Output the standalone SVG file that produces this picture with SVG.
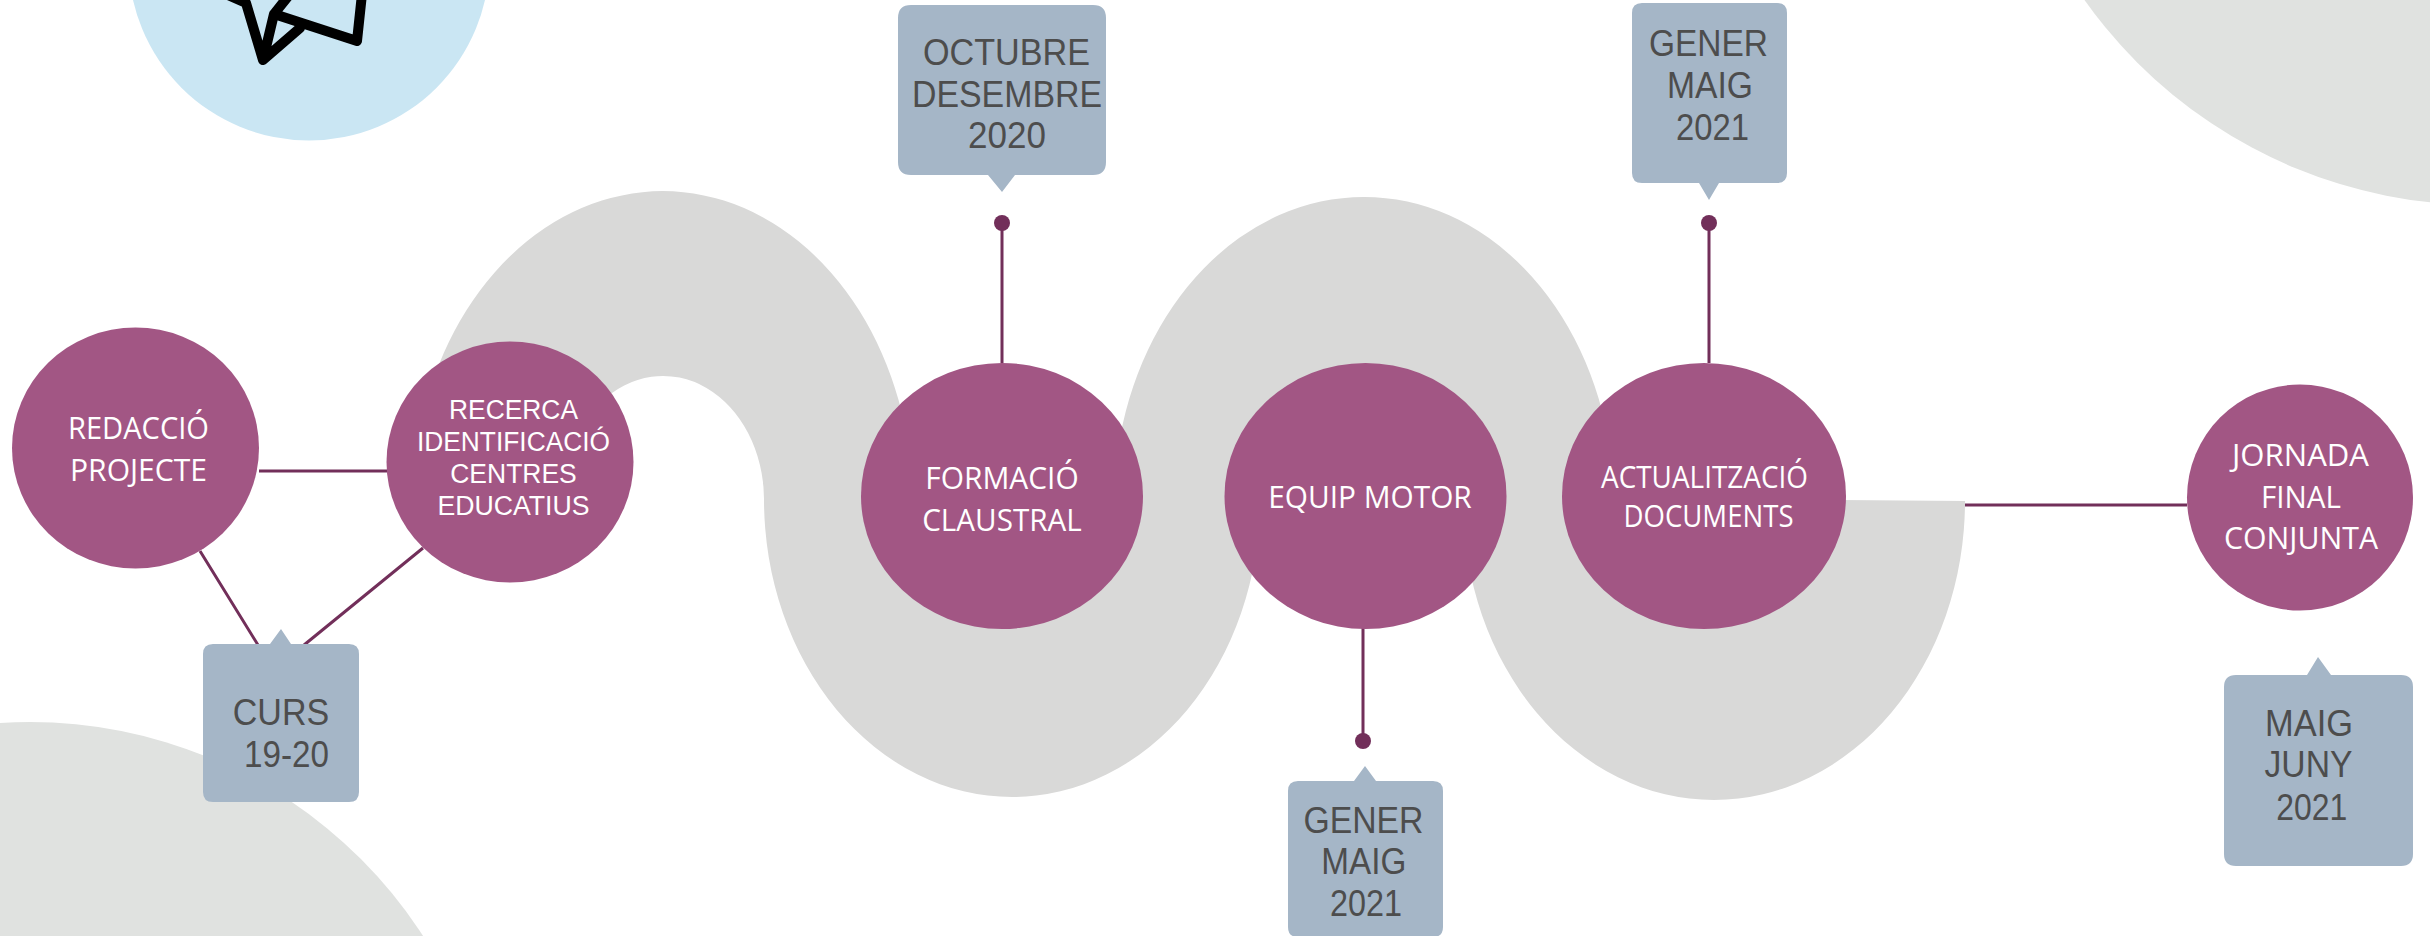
<svg xmlns="http://www.w3.org/2000/svg" width="2430" height="936" viewBox="0 0 2430 936">
<style>
.c{fill:#a25684}
.b{fill:#a5b6c7}
.l{stroke:#722f5a;stroke-width:3;fill:none}
.d{fill:#722f5a}
.t{font-family:"Open Sans","Noto Sans",sans-serif;font-size:31px;fill:#fff;text-anchor:middle}
.r{font-family:"Liberation Sans",Arial,sans-serif;font-size:27px;fill:#fff;text-anchor:middle}
.s{font-family:"Liberation Sans",Arial,sans-serif;font-size:36px;fill:#4d4d4d;text-anchor:middle}
</style>
<rect width="2430" height="936" fill="#fff"/>
<g id="decor">
<circle cx="309" cy="-40" r="180.5" fill="#cae6f3"/>
<path d="M228,-5 L246,3 L263,60 L300,28 M263,60 L274,14 L357,41 L362,-6 M274,14 L290,-6" fill="none" stroke="#000" stroke-width="10" stroke-linejoin="round" stroke-linecap="round"/>
<circle cx="30" cy="1190" r="468" fill="#e0e2e0"/>
<circle cx="2481" cy="-281" r="486" fill="#e0e2e0"/>
</g>
<path id="path" fill="#d9d9d8" d="M427,400 A250,313 0 0 1 909,450 L1118,450 A250,308 0 0 1 1610,450 L1700,499 L1965,501 A251,299 0 0 1 1463,501 L1260,499 A248,298 0 0 1 764,499 A101,124 0 0 0 600,403 Z"/>
<g id="connectors">
<path class="l" d="M259,471 H387 M200,551 L258,645 M423,548 L304,645 M1002,223 V363 M1709,223 V363 M1363,628 V741 M1965,505 H2187"/>
<circle class="d" cx="1002" cy="223" r="8"/>
<circle class="d" cx="1709" cy="223" r="8"/>
<circle class="d" cx="1363" cy="741" r="8"/>
</g>
<g id="n-redaccio"><ellipse class="c" cx="135.5" cy="448" rx="123.5" ry="120.5"/><text class="t" x="138.5" y="439" textLength="141" lengthAdjust="spacingAndGlyphs">REDACCIÓ</text><text class="t" x="138.5" y="480.5" textLength="137" lengthAdjust="spacingAndGlyphs">PROJECTE</text></g>
<g id="n-recerca"><ellipse class="c" cx="510" cy="462" rx="123.5" ry="120.5"/><text class="r" x="513.5" y="418.5" textLength="129" lengthAdjust="spacingAndGlyphs">RECERCA</text><text class="r" x="513.5" y="451" textLength="193" lengthAdjust="spacingAndGlyphs">IDENTIFICACIÓ</text><text class="r" x="513.5" y="482.5" textLength="126.5" lengthAdjust="spacingAndGlyphs">CENTRES</text><text class="r" x="513.5" y="515" textLength="152" lengthAdjust="spacingAndGlyphs">EDUCATIUS</text></g>
<g id="n-formacio"><ellipse class="c" cx="1002" cy="496" rx="141" ry="133"/><text class="t" x="1002" y="489" textLength="153.5" lengthAdjust="spacingAndGlyphs">FORMACIÓ</text><text class="t" x="1002" y="531" textLength="159.6" lengthAdjust="spacingAndGlyphs">CLAUSTRAL</text></g>
<g id="n-equip"><ellipse class="c" cx="1365.5" cy="496" rx="141" ry="133"/><text class="t" x="1370" y="508" textLength="203.5" lengthAdjust="spacingAndGlyphs">EQUIP MOTOR</text></g>
<g id="n-actualitzacio"><ellipse class="c" cx="1704" cy="496" rx="142" ry="133"/><text class="t" x="1704.5" y="488" textLength="207" lengthAdjust="spacingAndGlyphs">ACTUALITZACIÓ</text><text class="t" x="1708.5" y="526.5" textLength="170" lengthAdjust="spacingAndGlyphs">DOCUMENTS</text></g>
<g id="n-jornada"><ellipse class="c" cx="2300" cy="497.5" rx="113" ry="113"/><text class="t" x="2300.5" y="465.5" textLength="137" lengthAdjust="spacingAndGlyphs">JORNADA</text><text class="t" x="2301" y="507.5" textLength="80" lengthAdjust="spacingAndGlyphs">FINAL</text><text class="t" x="2301" y="548.5" textLength="154" lengthAdjust="spacingAndGlyphs">CONJUNTA</text></g>
<g id="b-curs"><path class="b" d="M213,644 H270 L281,629 L291,644 H349 Q359,644 359,654 V792 Q359,802 349,802 H213 Q203,802 203,792 V654 Q203,644 213,644 Z"/><text class="s" x="281" y="725" textLength="96.4" lengthAdjust="spacingAndGlyphs">CURS</text><text class="s" x="286.5" y="766.5" textLength="85" lengthAdjust="spacingAndGlyphs">19-20</text></g>
<g id="b-octubre"><path class="b" d="M911,5 H1093 Q1106,5 1106,18 V162 Q1106,175 1093,175 H1015 L1002,192 L988,175 H911 Q898,175 898,162 V18 Q898,5 911,5 Z"/><text class="s" x="1006.5" y="65" textLength="167" lengthAdjust="spacingAndGlyphs">OCTUBRE</text><text class="s" x="1007" y="107" textLength="190" lengthAdjust="spacingAndGlyphs">DESEMBRE</text><text class="s" x="1007" y="148" textLength="78" lengthAdjust="spacingAndGlyphs">2020</text></g>
<g id="b-gener1"><path class="b" d="M1642,3 H1777 Q1787,3 1787,13 V173 Q1787,183 1777,183 H1719 L1709,200 L1699,183 H1642 Q1632,183 1632,173 V13 Q1632,3 1642,3 Z"/><text class="s" x="1708.5" y="56" textLength="119" lengthAdjust="spacingAndGlyphs">GENER</text><text class="s" x="1710" y="98" textLength="86" lengthAdjust="spacingAndGlyphs">MAIG</text><text class="s" x="1712.5" y="139.5" textLength="73" lengthAdjust="spacingAndGlyphs">2021</text></g>
<g id="b-gener2"><path class="b" d="M1298,781 H1354 L1365,766 L1376,781 H1433 Q1443,781 1443,791 V927 Q1443,937 1433,937 H1298 Q1288,937 1288,927 V791 Q1288,781 1298,781 Z"/><text class="s" x="1363.5" y="832.5" textLength="120" lengthAdjust="spacingAndGlyphs">GENER</text><text class="s" x="1363.8" y="874" textLength="85" lengthAdjust="spacingAndGlyphs">MAIG</text><text class="s" x="1366" y="915.5" textLength="72" lengthAdjust="spacingAndGlyphs">2021</text></g>
<g id="b-maig"><path class="b" d="M2236,675 H2307 L2318,657 L2331,675 H2401 Q2413,675 2413,687 V854 Q2413,866 2401,866 H2236 Q2224,866 2224,854 V687 Q2224,675 2236,675 Z"/><text class="s" x="2309" y="736" textLength="88" lengthAdjust="spacingAndGlyphs">MAIG</text><text class="s" x="2308.5" y="777" textLength="88" lengthAdjust="spacingAndGlyphs">JUNY</text><text class="s" x="2311.7" y="819.5" textLength="71" lengthAdjust="spacingAndGlyphs">2021</text></g>
</svg>
